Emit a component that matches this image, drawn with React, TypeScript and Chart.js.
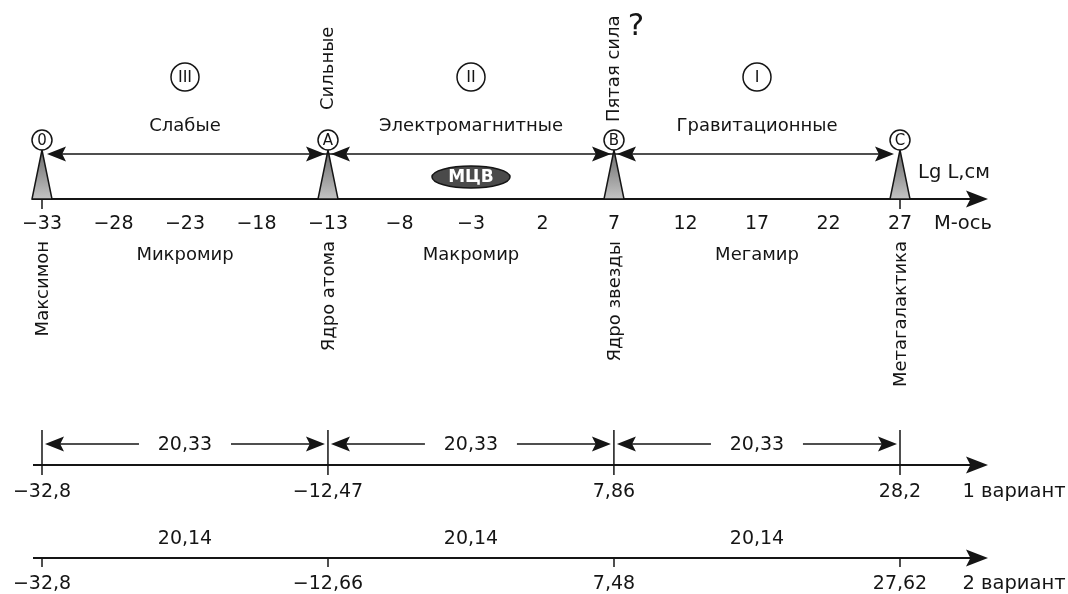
import { useEffect, useRef } from "react";
import { Chart, registerables } from "chart.js";

Chart.register(...registerables);

// M-axis (top)
const M_TICKS = [-33, -28, -23, -18, -13, -8, -3, 2, 7, 12, 17, 22, 27];
const NODE_VALUES = [-33, -13, 7, 27];
const NODE_LETTERS = ["0", "A", "B", "C"];
const NODE_OBJECTS = ["Максимон", "Ядро атома", "Ядро звезды", "Метагалактика"];
const FORCE_NAMES = ["Слабые", "Электромагнитные", "Гравитационные"];
const FORCE_NUMS = ["III", "II", "I"];
const WORLD_NAMES = ["Микромир", "Макромир", "Мегамир"];
const STRONG_LABEL = "Сильные";
const FIFTH_LABEL = "Пятая сила";

// variants (bottom)
const V1_VALUES = [-32.8, -12.47, 7.86, 28.2];
const V1_LABELS = ["−32,8", "−12,47", "7,86", "28,2"];
const V1_STEP = "20,33";
const V2_VALUES = [-32.8, -12.66, 7.48, 27.62];
const V2_LABELS = ["−32,8", "−12,66", "7,48", "27,62"];
const V2_STEP = "20,14";

const FONT = "'DejaVu Sans', sans-serif";
const INK = "#151515";

const fmt = (v: number) => (v < 0 ? "−" + Math.abs(v) : String(v));

function head(ctx: CanvasRenderingContext2D, tipX: number, y: number, dir: number, len = 19, hw = 7.5) {
  ctx.beginPath();
  ctx.moveTo(tipX, y);
  ctx.lineTo(tipX - dir * len, y - hw);
  ctx.lineTo(tipX - dir * len * 0.8, y);
  ctx.lineTo(tipX - dir * len, y + hw);
  ctx.closePath();
  ctx.fill();
}

function line(ctx: CanvasRenderingContext2D, x1: number, y1: number, x2: number, y2: number) {
  ctx.beginPath();
  ctx.moveTo(x1, y1);
  ctx.lineTo(x2, y2);
  ctx.stroke();
}

function vtext(ctx: CanvasRenderingContext2D, s: string, x: number, y: number, align: CanvasTextAlign) {
  ctx.save();
  ctx.translate(x, y);
  ctx.rotate(-Math.PI / 2);
  ctx.textAlign = align;
  ctx.textBaseline = "middle";
  ctx.fillText(s, 0, 0);
  ctx.restore();
}

const diagramPlugin = {
  id: "diagram",
  afterDraw(chart: Chart) {
    const ctx = chart.ctx;
    const sx = chart.scales.x;
    const s1 = chart.scales.x2;
    const s2 = chart.scales.x3;
    const yy = chart.scales.y;
    const Y = (v: number) => yy.getPixelForValue(v);
    const X = (v: number) => sx.getPixelForValue(v);

    ctx.save();
    ctx.strokeStyle = INK;
    ctx.fillStyle = INK;
    ctx.lineWidth = 2;

    // ---- top M-axis
    const axisY = Y(199);
    const axisEnd = 988;
    line(ctx, 32, axisY, axisEnd - 10, axisY);
    head(ctx, axisEnd, axisY, 1, 22, 8.5);
    ctx.lineWidth = 1.5;
    [NODE_VALUES[0], NODE_VALUES[3]].forEach((v) => line(ctx, X(v), axisY, X(v), axisY + 10));

    ctx.font = `19px ${FONT}`;
    ctx.textAlign = "center";
    ctx.textBaseline = "middle";
    M_TICKS.forEach((t) => ctx.fillText(fmt(t), X(t), Y(224)));
    ctx.font = `19.5px ${FONT}`;
    ctx.fillText("М-ось", 963, Y(224));
    ctx.fillText("Lg L,см", 954, Y(173));

    // force arrows
    const arrY = Y(154);
    line(ctx, X(NODE_VALUES[0]) + 10, arrY, X(NODE_VALUES[3]) - 10, arrY);
    head(ctx, X(NODE_VALUES[0]) + 5, arrY, -1);
    head(ctx, X(NODE_VALUES[1]) - 3, arrY, 1);
    head(ctx, X(NODE_VALUES[1]) + 3, arrY, -1);
    head(ctx, X(NODE_VALUES[2]) - 3, arrY, 1);
    head(ctx, X(NODE_VALUES[2]) + 3, arrY, -1);
    head(ctx, X(NODE_VALUES[3]) - 6, arrY, 1);

    // nodes: triangles + circles
    NODE_VALUES.forEach((v, i) => {
      const x = X(v);
      const grad = ctx.createLinearGradient(0, Y(150), 0, axisY);
      grad.addColorStop(0, "#6a6a6a");
      grad.addColorStop(1, "#c4c4c4");
      ctx.beginPath();
      ctx.moveTo(x, Y(150));
      ctx.lineTo(x - 10, axisY);
      ctx.lineTo(x + 10, axisY);
      ctx.closePath();
      ctx.fillStyle = grad;
      ctx.fill();
      ctx.stroke();
      ctx.beginPath();
      ctx.arc(x, Y(140), 10, 0, Math.PI * 2);
      ctx.fillStyle = "#fff";
      ctx.fill();
      ctx.stroke();
      ctx.fillStyle = INK;
      ctx.font = `15px ${FONT}`;
      ctx.fillText(NODE_LETTERS[i], x, Y(141));
      ctx.font = `18px ${FONT}`;
      vtext(ctx, NODE_OBJECTS[i], x + 1, Y(241), "right");
    });

    // segments: roman numerals, force names, worlds
    for (let i = 0; i < 3; i++) {
      const mid = X((NODE_VALUES[i] + NODE_VALUES[i + 1]) / 2);
      ctx.beginPath();
      ctx.arc(mid, Y(77), 14, 0, Math.PI * 2);
      ctx.stroke();
      ctx.font = `16px ${FONT}`;
      ctx.fillText(FORCE_NUMS[i], mid, Y(78));
      ctx.font = `18px ${FONT}`;
      ctx.fillText(FORCE_NAMES[i], mid, Y(126));
      ctx.fillText(WORLD_NAMES[i], mid, Y(255));
    }

    vtext(ctx, STRONG_LABEL, X(NODE_VALUES[1]), Y(110), "left");
    vtext(ctx, FIFTH_LABEL, X(NODE_VALUES[2]), Y(122), "left");
    ctx.font = `31px ${FONT}`;
    ctx.fillText("?", X(NODE_VALUES[2]) + 22, Y(27));

    // MЦВ ellipse
    const ex = X((NODE_VALUES[1] + NODE_VALUES[2]) / 2);
    ctx.beginPath();
    ctx.ellipse(ex, Y(177), 39, 11, 0, 0, Math.PI * 2);
    ctx.fillStyle = "#4a4a4a";
    ctx.fill();
    ctx.stroke();
    ctx.fillStyle = "#fff";
    ctx.font = `bold 17px ${FONT}`;
    ctx.fillText("МЦВ", ex, Y(178));
    ctx.fillStyle = INK;

    // ---- variant 1
    ctx.lineWidth = 2;
    const v1Y = Y(465);
    line(ctx, 33, v1Y, axisEnd - 10, v1Y);
    head(ctx, axisEnd, v1Y, 1, 22, 8.5);
    ctx.lineWidth = 1.5;
    const dimY = Y(444);
    V1_VALUES.forEach((v) => line(ctx, s1.getPixelForValue(v), Y(430), s1.getPixelForValue(v), Y(475)));
    ctx.font = `19px ${FONT}`;
    V1_LABELS.forEach((s, i) => ctx.fillText(s, s1.getPixelForValue(V1_VALUES[i]), Y(492)));
    ctx.font = `19.5px ${FONT}`;
    ctx.fillText("1 вариант", 1014, Y(492));
    ctx.font = `19px ${FONT}`;
    for (let i = 0; i < 3; i++) {
      const a = s1.getPixelForValue(V1_VALUES[i]);
      const b = s1.getPixelForValue(V1_VALUES[i + 1]);
      const m = (a + b) / 2;
      line(ctx, a + 10, dimY, m - 46, dimY);
      line(ctx, m + 46, dimY, b - 10, dimY);
      head(ctx, a + 3, dimY, -1);
      head(ctx, b - 3, dimY, 1);
      ctx.fillText(V1_STEP, m, dimY + 1);
    }

    // ---- variant 2
    ctx.lineWidth = 2;
    const v2Y = Y(558);
    line(ctx, 33, v2Y, axisEnd - 10, v2Y);
    head(ctx, axisEnd, v2Y, 1, 22, 8.5);
    ctx.lineWidth = 1.5;
    V2_VALUES.forEach((v) => line(ctx, s2.getPixelForValue(v), v2Y, s2.getPixelForValue(v), Y(567)));
    V2_LABELS.forEach((s, i) => ctx.fillText(s, s2.getPixelForValue(V2_VALUES[i]), Y(584)));
    for (let i = 0; i < 3; i++) {
      const m = (s2.getPixelForValue(V2_VALUES[i]) + s2.getPixelForValue(V2_VALUES[i + 1])) / 2;
      ctx.fillText(V2_STEP, m, Y(539));
    }
    ctx.font = `19.5px ${FONT}`;
    ctx.fillText("2 вариант", 1014, Y(584));

    ctx.restore();
  },
};

export default function App() {
  const canvasRef = useRef<HTMLCanvasElement>(null);
  const chartRef = useRef<Chart | null>(null);

  useEffect(() => {
    if (!canvasRef.current) return;
    if (chartRef.current) chartRef.current.destroy();
    const ctx = canvasRef.current.getContext("2d");
    if (!ctx) return;

    chartRef.current = new Chart(ctx, {
      type: "scatter",
      data: { datasets: [] },
      options: {
        animation: false,
        responsive: true,
        maintainAspectRatio: false,
        layout: { padding: 0 },
        plugins: { legend: { display: false }, tooltip: { enabled: false } },
        scales: {
          // -33 -> 42px, 27 -> 900px
          x: { type: "linear", display: false, min: -35.937, max: 38.748 },
          // variant scales: first value -> 42px, last -> 900px
          x2: { type: "linear", axis: "x", display: false, min: -35.786, max: 40.144 },
          x3: { type: "linear", axis: "x", display: false, min: -35.758, max: 39.451 },
          y: { type: "linear", display: false, min: 0, max: 594, reverse: true },
        },
      },
      plugins: [diagramPlugin],
    });

    return () => {
      if (chartRef.current) {
        chartRef.current.destroy();
        chartRef.current = null;
      }
    };
  }, []);

  return (
    <div style={{ position: "fixed", left: 0, top: 0, width: 1068, height: 594, background: "#fff" }}>
      <canvas ref={canvasRef}></canvas>
    </div>
  );
}
